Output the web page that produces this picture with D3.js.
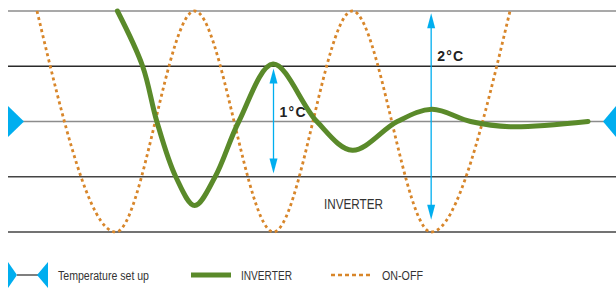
<!DOCTYPE html>
<html>
<head>
<meta charset="utf-8">
<script src="https://cdn.jsdelivr.net/npm/d3@7"></script>
<style>
  body { margin: 0; background: #fff; }
  svg { display: block; }
</style>
</head>
<body>
<div id="chart"></div>
<script>
// temperature deviation from set point (°C), time in minutes
const gridLevels = [1, 0.5, 0, -0.5, -1];
const onOffPoints = [[0, 1], [10, -1], [20, 1], [30, -1], [40, 1], [50, -1], [60, 1]];
const inverterPoints = [
  [10.2, 1.0], [13.4, 0.5], [15.2, 0], [17.6, -0.5], [20, -0.76], [22.6, -0.5],
  [25.6, 0], [29.95, 0.52], [35.5, 0], [40, -0.26], [45.7, 0],
  [50.1, 0.11], [55, 0], [60, -0.047], [69.9, 0]
];
const arrows = [
  { t: 30, from: -0.47, to: 0.48, label: "1°C", labelY: 0.04 },
  { t: 50, from: -0.89, to: 0.98, label: "2°C", labelY: 0.545 }
];
const areaLabel = "INVERTER";
const legendItems = ["Temperature set up", "INVERTER", "ON-OFF"];

const width = 616, height = 289;
const green = "#5a8a2a", orange = "#d8862a", blue = "#00aeef";

const svg = d3.select("#chart")
  .append("svg")
  .attr("width", width)
  .attr("height", height);

const x = d3.scaleLinear().domain([0, 60]).range([37, 510]);
const y = d3.scaleLinear().domain([-1, 1]).range([232, 11]);

// horizontal guide lines
const gridColor = { "1": "#8c8c8c", "0.5": "#2a2a2a", "0": "#8c8c8c", "-0.5": "#444", "-1": "#444" };
svg.selectAll("line.grid")
  .data(gridLevels)
  .join("line")
  .attr("class", "grid")
  .attr("x1", 8)
  .attr("x2", width)
  .attr("y1", d => y(d))
  .attr("y2", d => y(d))
  .attr("stroke", d => gridColor[d])
  .attr("stroke-width", 1.5);

// set point markers
const y0 = y(0);
svg.append("path")
  .attr("d", `M8,${y0 - 15.5} L24,${y0} L8,${y0 + 15.5} Z`)
  .attr("fill", blue);
svg.append("path")
  .attr("d", `M${width},${y0 - 15.5} L603,${y0} L${width},${y0 + 15.5} Z`)
  .attr("fill", blue);

const onOffLine = d3.line()
  .x(d => x(d[0]))
  .y(d => y(d[1]))
  .curve(d3.curveMonotoneX);

const inverterLine = d3.line()
  .x(d => x(d[0]))
  .y(d => y(d[1]))
  .curve(d3.curveCatmullRom.alpha(0.5));

// ON-OFF
svg.append("path")
  .datum(onOffPoints)
  .attr("d", onOffLine)
  .attr("fill", "none")
  .attr("stroke", orange)
  .attr("stroke-width", 2.8)
  .attr("stroke-dasharray", "3,3.2");

// arrows
const arrowG = svg.selectAll("g.arrow")
  .data(arrows)
  .join("g")
  .attr("class", "arrow");
arrowG.append("line")
  .attr("x1", d => x(d.t))
  .attr("x2", d => x(d.t))
  .attr("y1", d => y(d.to) + 10)
  .attr("y2", d => y(d.from) - 10)
  .attr("stroke", blue)
  .attr("stroke-width", 1.3);
arrowG.append("path")
  .attr("d", d => {
    const cx = x(d.t), t = y(d.to);
    return `M${cx},${t} L${cx + 4},${t + 15} L${cx - 4},${t + 15} Z`;
  })
  .attr("fill", blue);
arrowG.append("path")
  .attr("d", d => {
    const cx = x(d.t), b = y(d.from);
    return `M${cx},${b} L${cx + 4},${b - 15} L${cx - 4},${b - 15} Z`;
  })
  .attr("fill", blue);

// INVERTER
svg.append("path")
  .datum(inverterPoints)
  .attr("d", inverterLine)
  .attr("fill", "none")
  .attr("stroke", green)
  .attr("stroke-width", 5)
  .attr("stroke-linecap", "round");

arrowG.append("text")
  .attr("x", d => x(d.t) + 6)
  .attr("y", d => y(d.labelY))
  .attr("font-family", "Liberation Sans, Arial, sans-serif")
  .attr("font-weight", "bold")
  .attr("font-size", 14)
  .attr("textLength", 26)
  .attr("lengthAdjust", "spacing")
  .attr("fill", "#222")
  .text(d => d.label);

svg.append("text")
  .attr("x", 324)
  .attr("y", 209)
  .attr("font-family", "Liberation Sans, Arial, sans-serif")
  .attr("font-size", 14.5)
  .attr("textLength", 59)
  .attr("lengthAdjust", "spacingAndGlyphs")
  .attr("fill", "#333")
  .text(areaLabel);

// legend
const ly = 275;
const legend = svg.append("g");
legend.append("line")
  .attr("x1", 17).attr("x2", 38).attr("y1", ly).attr("y2", ly)
  .attr("stroke", "#555").attr("stroke-width", 1.5);
legend.append("path")
  .attr("d", `M8,${ly - 13} L17,${ly} L8,${ly + 13} Z`)
  .attr("fill", blue);
legend.append("path")
  .attr("d", `M48,${ly - 13} L37,${ly} L48,${ly + 13} Z`)
  .attr("fill", blue);
legend.append("line")
  .attr("x1", 191).attr("x2", 231).attr("y1", ly).attr("y2", ly)
  .attr("stroke", green).attr("stroke-width", 5);
legend.append("line")
  .attr("x1", 331).attr("x2", 372).attr("y1", ly).attr("y2", ly)
  .attr("stroke", orange).attr("stroke-width", 2.4)
  .attr("stroke-dasharray", "4,3");

const legendX = [58, 241, 382], legendW = [91, 51, 41];
legend.selectAll("text")
  .data(legendItems)
  .join("text")
  .attr("x", (d, i) => legendX[i])
  .attr("y", ly + 4.5)
  .attr("font-family", "Liberation Sans, Arial, sans-serif")
  .attr("font-size", 12.5)
  .attr("textLength", (d, i) => legendW[i])
  .attr("lengthAdjust", "spacingAndGlyphs")
  .attr("fill", "#333")
  .text(d => d);
</script>
</body>
</html>
